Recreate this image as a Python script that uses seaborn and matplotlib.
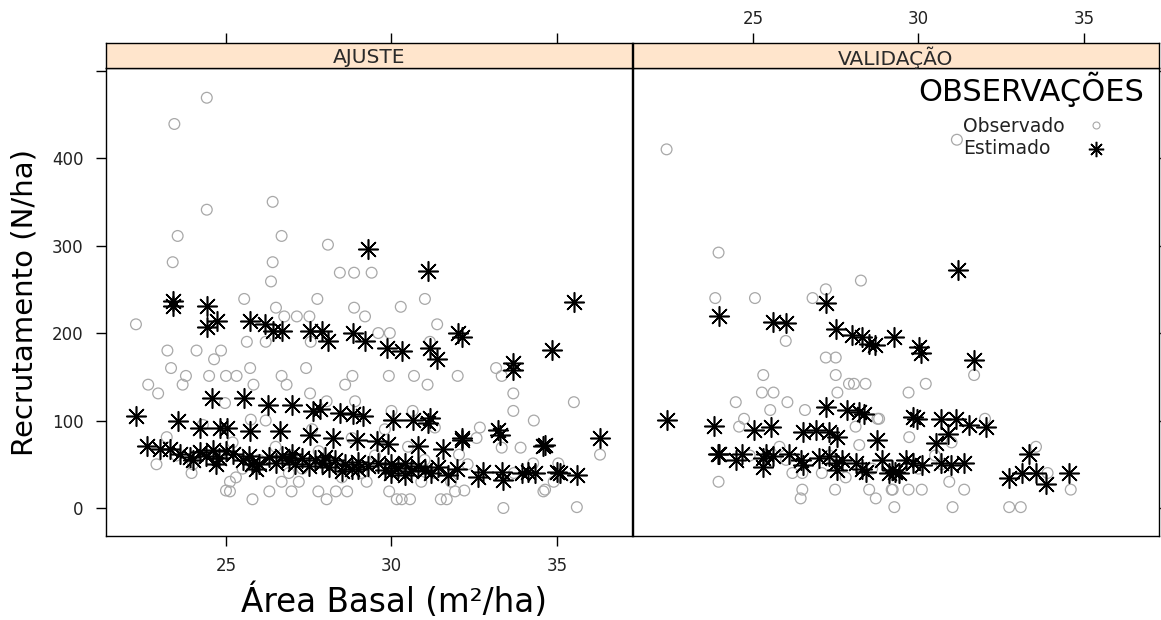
import matplotlib
matplotlib.use("Agg")
import matplotlib.pyplot as plt
import seaborn as sns
import pandas as pd
from matplotlib.lines import Line2D

sns.set_theme(style="white")
plt.rcParams['font.family'] = ['DejaVu Sans']

panels = ["AJUSTE", "VALIDAÇÃO"]
series = ["Observado", "Estimado"]
legend_title = "OBSERVAÇÕES"
x_ticks = [25, 30, 35]
y_ticks = [0, 100, 200, 300, 400, 500]
y_tick_labels = ["0", "100", "200", "300", "400", ""]

# ---- AJUSTE panel ----
obs_aj_x = [24.42, 23.44, 24.42, 26.41, 23.54, 26.68, 28.08, 23.39, 26.41, 26.36, 28.44, 28.87, 29.40, 31.01,
            27.76, 25.55, 22.28, 28.87, 29.20, 26.51, 26.76, 27.14, 27.52, 30.28, 31.38, 25.63, 26.20, 27.56,
            29.60, 29.95, 31.16, 23.23, 24.11, 24.85, 24.64, 23.34, 25.73, 27.42, 23.79, 24.49, 25.00, 25.32,
            26.68, 28.82, 29.92, 30.68, 32.00, 33.16, 22.65, 23.69, 25.83, 26.83, 28.60, 31.09, 22.95, 27.54,
            33.68, 33.68, 34.30, 32.67, 33.33, 33.90, 34.59, 33.38, 23.96, 25.12, 25.12, 25.80, 26.31, 26.68,
            26.98, 27.79, 28.04, 28.32, 28.66, 29.25, 30.16, 30.31, 30.56, 31.49, 31.67, 31.92, 29.93, 23.21,
            24.97, 25.75, 28.04, 28.90, 30.00, 30.64, 31.31, 32.57, 32.04, 33.33, 35.51, 36.30, 35.04, 34.28,
            34.64, 35.60, 24.0, 24.8, 25.2, 25.5, 26.0, 26.5, 27.0, 27.3, 27.8, 28.3, 28.8, 29.1, 29.5, 30.2,
            30.5, 31.0, 31.3, 31.8, 32.3, 23.5, 22.9, 27.6, 26.2, 29.8, 24.3, 32.2, 33.7, 34.9, 25.0, 25.3,
            27.2, 28.5, 30.9, 26.9]
obs_aj_y = [469, 439, 341, 350, 311, 311, 301, 281, 281, 259, 269, 269, 269, 239,
            239, 239, 210, 229, 219, 229, 219, 219, 219, 230, 210, 190, 190, 190,
            200, 200, 190, 180, 180, 180, 170, 160, 160, 160, 151, 151, 151, 151,
            151, 151, 151, 151, 151, 160, 141, 141, 141, 141, 141, 141, 131, 131,
            131, 111, 100, 92, 69, 69, 19, 0, 40, 30, 19, 10, 19, 30,
            19, 19, 10, 19, 19, 30, 10, 10, 10, 10, 10, 19, 19, 81,
            120, 101, 122, 122, 111, 111, 92, 80, 61, 151, 121, 61, 51, 51,
            21, 1, 50, 60, 75, 45, 55, 70, 60, 45, 65, 50, 80, 40, 60, 45,
            70, 55, 40, 30, 50, 60, 50, 90, 100, 90, 95, 20, 40, 30, 20, 35,
            30, 35, 30, 40]

est_aj_x = [23.41, 23.41, 24.44, 24.44, 24.72, 25.73, 26.18, 26.43, 26.68, 27.54, 27.89, 28.09, 28.85, 29.20,
            29.30, 29.87, 30.31, 31.11, 31.16, 31.38, 32.02, 32.12, 33.68, 33.68, 34.84, 35.51, 22.28, 23.54,
            24.57, 25.55, 26.28, 26.98, 27.64, 27.84, 28.44, 28.85, 29.15, 30.05, 30.66, 31.11, 31.16, 33.23,
            32.12, 34.64, 36.30, 24.21, 24.82, 25.02, 25.73, 26.63, 27.54, 28.24, 28.95, 29.55, 29.90, 30.81,
            31.57, 32.12, 33.28, 34.59, 22.60, 23.00, 23.30, 23.60, 23.90, 24.20, 24.40, 24.60, 24.80, 25.20,
            25.50, 25.70, 25.80, 26.30, 26.50, 26.70, 26.90, 27.10, 27.30, 27.50, 27.70, 27.90, 28.10, 28.30,
            28.60, 28.80, 29.00, 29.30, 29.60, 29.80, 30.00, 30.20, 30.40, 30.60, 30.80, 31.00, 31.20, 31.40,
            31.70, 31.97, 32.62, 32.77, 33.33, 33.38, 33.93, 34.13, 34.34, 34.99, 35.09, 35.60, 24.0, 25.0,
            26.0, 27.0, 28.0, 29.0, 30.0, 25.9, 24.7, 28.5, 30.4]
est_aj_y = [237, 231, 231, 207, 214, 214, 210, 202, 202, 202, 202, 191, 200, 191,
            296, 183, 179, 271, 183, 170, 200, 195, 166, 158, 181, 235, 105, 99,
            126, 126, 118, 118, 111, 113, 109, 107, 105, 101, 101, 97, 103, 89,
            80, 72, 80, 92, 92, 92, 88, 88, 84, 80, 78, 77, 73, 71,
            67, 78, 84, 71, 71, 67, 67, 62, 58, 64, 60, 66, 57, 62,
            55, 60, 50, 58, 52, 60, 55, 50, 57, 48, 55, 52, 47, 55,
            50, 45, 53, 48, 52, 44, 50, 46, 52, 42, 48, 44, 40, 47,
            38, 45, 36, 41, 41, 32, 40, 41, 40, 41, 40, 38, 55, 65,
            50, 62, 58, 45, 40, 45, 50, 42, 38]

# ---- VALIDAÇÃO panel ----
obs_va_x = [22.39, 23.96, 23.86, 25.06, 26.80, 27.20, 28.26, 25.99, 27.20, 27.50, 25.31, 27.50, 25.27, 25.62,
            27.55, 27.90, 28.05, 28.40, 24.48, 25.52, 26.04, 26.57, 24.73, 24.58, 28.10, 28.76, 28.21, 23.96,
            26.19, 26.49, 27.08, 26.49, 26.44, 27.48, 28.51, 28.71, 29.22, 29.27, 31.16, 31.68, 30.22, 29.70,
            32.01, 28.81, 29.72, 33.55, 33.90, 34.60, 29.19, 29.70, 30.10, 30.93, 31.38, 31.03, 32.74, 33.09,
            27.3, 26.0, 28.6, 30.5, 31.0, 30.0, 24.9, 25.8, 27.8, 30.7]
obs_va_y = [410, 292, 240, 240, 240, 250, 260, 191, 172, 172, 152, 152, 132, 132,
            132, 142, 142, 142, 121, 112, 121, 112, 102, 93, 93, 102, 72, 30,
            40, 40, 40, 21, 11, 21, 21, 11, 21, 1, 421, 152, 142, 132,
            102, 102, 81, 70, 40, 21, 21, 21, 21, 30, 21, 1, 1, 1,
            60, 55, 45, 60, 75, 45, 60, 70, 35, 50]

est_va_x = [22.39, 23.96, 23.83, 23.93, 25.59, 25.99, 27.20, 27.50, 28.00, 28.30, 28.50, 28.70, 29.26, 30.02,
            30.07, 31.18, 31.68, 25.04, 25.54, 26.50, 26.90, 27.30, 27.55, 27.20, 27.85, 28.20, 28.36, 28.76,
            23.98, 24.48, 24.68, 25.29, 25.29, 25.39, 25.59, 26.09, 26.45, 26.50, 27.00, 27.30, 27.50, 27.55,
            27.70, 28.10, 28.30, 28.40, 28.90, 29.10, 29.30, 29.82, 29.97, 30.68, 31.13, 31.53, 32.03, 30.53,
            30.88, 29.21, 29.41, 29.62, 29.82, 30.12, 30.68, 30.98, 31.38, 32.74, 33.14, 33.55, 33.85, 34.55,
            33.34]
est_va_y = [101, 219, 94, 62, 213, 211, 234, 205, 198, 196, 188, 186, 196, 184,
            177, 272, 169, 89, 93, 87, 89, 87, 81, 116, 112, 110, 108, 78,
            62, 55, 62, 57, 47, 62, 59, 62, 55, 49, 57, 59, 51, 43,
            55, 51, 45, 41, 55, 40, 41, 104, 102, 102, 102, 95, 93, 74,
            85, 43, 40, 55, 51, 49, 51, 49, 51, 34, 40, 40, 28, 40,
            62]

data = {
    panels[0]: (pd.DataFrame({"x": obs_aj_x, "y": obs_aj_y}), pd.DataFrame({"x": est_aj_x, "y": est_aj_y})),
    panels[1]: (pd.DataFrame({"x": obs_va_x, "y": obs_va_y}), pd.DataFrame({"x": est_va_x, "y": est_va_y})),
}

W, H = 1161, 620
fig = plt.figure(figsize=(W / 100, H / 100), dpi=100)
fig.patch.set_facecolor("white")


def fx(px):
    return px / W


def fy(py):
    return 1 - py / H


PANEL_L = [106, 633]
PANEL_W = 526
TOP, BOT, STRIP_TOP = 68, 536, 43
XLIM = (21.375, 21.375 + PANEL_W / 33.1)
YLIM = (-32, 503)
OBS_COL = "#a8a8a8"
STAR = (8, 2, 0)
TICK_FS = 12
TICK_COL = "#222222"

axes, strips = [], []
for i, name in enumerate(panels):
    ax = fig.add_axes([fx(PANEL_L[i]), fy(BOT), PANEL_W / W, (BOT - TOP) / H])
    st = fig.add_axes([fx(PANEL_L[i]), fy(TOP), PANEL_W / W, (TOP - STRIP_TOP) / H])
    obs, est = data[name]
    sns.scatterplot(data=obs, x="x", y="y", ax=ax, marker="o", s=60,
                    facecolors="none", edgecolor=OBS_COL, linewidth=0.9, zorder=2)
    sns.scatterplot(data=est, x="x", y="y", ax=ax, marker=STAR, s=200,
                    color="black", linewidth=1.15, zorder=3)
    ax.set_xlim(*XLIM)
    ax.set_ylim(*YLIM)
    ax.set_xlabel("")
    ax.set_ylabel("")
    for sp in ax.spines.values():
        sp.set_color("black")
        sp.set_linewidth(1.0)
    ax.set_xticks(x_ticks)
    ax.set_yticks(y_ticks)
    if i == 0:
        ax.set_yticklabels(y_tick_labels)
        ax.tick_params(axis="x", bottom=True, labelbottom=True, direction="out",
                       length=7, width=1, pad=8, labelsize=TICK_FS, colors="black",
                       labelcolor=TICK_COL)
        ax.tick_params(axis="y", left=True, labelleft=True, right=False, direction="out",
                       length=7, width=1, pad=9, labelsize=TICK_FS, colors="black",
                       labelcolor=TICK_COL)
    else:
        ax.tick_params(axis="x", bottom=False, labelbottom=False)
        ax.tick_params(axis="y", left=False, labelleft=False, right=True, labelright=False,
                       direction="out", length=7, width=1)
    # strip
    st.set_facecolor("#ffe5cc")
    st.set_xlim(*XLIM)
    st.set_ylim(0, 1)
    st.set_yticks([])
    st.set_xticks(x_ticks)
    st.tick_params(axis="x", bottom=False, labelbottom=False, top=True, labeltop=(i == 1),
                   direction="out", length=7, width=1, pad=4, labelsize=TICK_FS, colors="black",
                   labelcolor=TICK_COL)
    for sp in st.spines.values():
        sp.set_color("black")
        sp.set_linewidth(1.0)
    st.text(0.5, 0.42, name, transform=st.transAxes, ha="center", va="center",
            fontsize=14.5, color="#2a2a2a")
    axes.append(ax)
    strips.append(st)

fig.text(fx(25), fy(302), "Recrutamento (N/ha)", rotation=90, ha="center", va="center",
         fontsize=21, color="black")
fig.text(fx(394), fy(601), "Área Basal (m²/ha)", ha="center", va="center",
         fontsize=23.5, color="black")

# legend (key block in the upper right of the VALIDAÇÃO panel)
fig.text(fx(1031), fy(89), legend_title, ha="center", va="center", fontsize=22, color="black")
key_y = [127, 149]
key_markers = [
    dict(marker="o", mfc="none", mec=OBS_COL, ms=5, mew=0.8),
    dict(marker=STAR, color="black", ms=11, mew=1.1),
]
for lab, ky, mk in zip(series, key_y, key_markers):
    fig.text(fx(963), fy(ky), lab, ha="left", va="center", fontsize=13.5, color="#222222")
    fig.add_artist(Line2D([fx(1096)], [fy(ky - 2 if mk["marker"] == "o" else ky)], ls="none",
                          transform=fig.transFigure, **mk))

fig.savefig("out.png", dpi=100, facecolor="white")
